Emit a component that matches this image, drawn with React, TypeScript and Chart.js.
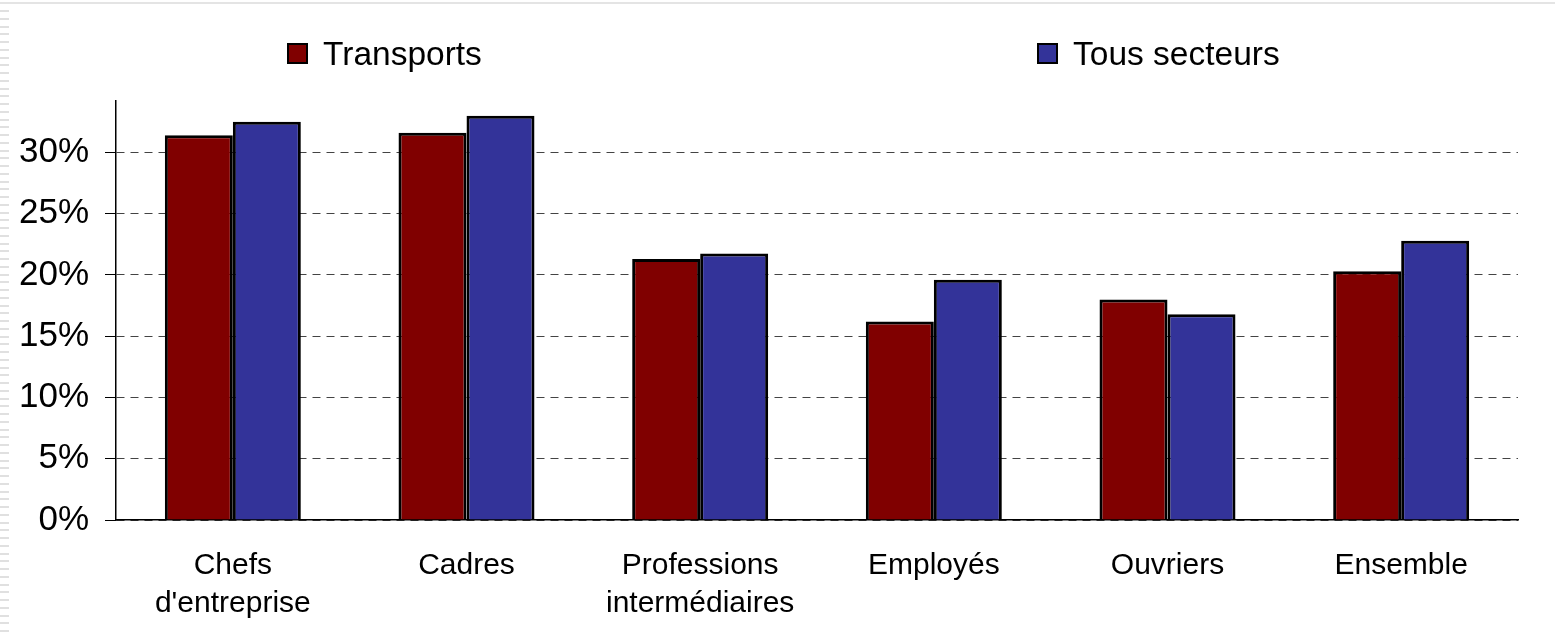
import React, { useEffect, useRef } from "react";
import { Chart, registerables } from "chart.js";

Chart.register(...registerables);

const categories: string[][] = [
  ["Chefs", "d'entreprise"],
  ["Cadres"],
  ["Professions", "intermédiaires"],
  ["Employés"],
  ["Ouvriers"],
  ["Ensemble"],
];
const seriesNames = ["Transports", "Tous secteurs"];
const transports = [31.4, 31.6, 21.3, 16.2, 18.0, 20.3];
const tousSecteurs = [32.5, 33.0, 21.75, 19.6, 16.8, 22.8];
const yMin = 0;
const yMax = 34.2;
const yStep = 5;

const FONT = "'Liberation Sans', Arial, sans-serif";
const RED = "#800000";
const BLUE = "#333399";

const decorPlugin = {
  id: "decor",
  beforeDraw(chart: any) {
    const { ctx, width, height } = chart;
    ctx.save();
    ctx.fillStyle = "#ffffff";
    ctx.fillRect(0, 0, width, height);
    ctx.fillStyle = "#e4e4e4";
    ctx.fillRect(0, 2, width, 2);
    ctx.fillStyle = "#e0e0e0";
    for (let y = 10; y < height; y += 7.75) {
      ctx.fillRect(0, Math.round(y), 9, 2);
    }
    ctx.restore();
  },
};

const legendPlugin = {
  id: "customLegend",
  afterDraw(chart: any) {
    const { ctx } = chart;
    const xs = [287, 1037];
    ctx.save();
    chart.data.datasets.forEach((ds: any, i: number) => {
      const x = xs[i];
      const yTop = 43;
      const size = 21;
      ctx.fillStyle = ds.backgroundColor;
      ctx.fillRect(x, yTop, size, size);
      ctx.strokeStyle = "#000";
      ctx.lineWidth = 2;
      ctx.strokeRect(x + 1, yTop + 1, size - 2, size - 2);
      ctx.fillStyle = "#000";
      ctx.font = `33.5px ${FONT}`;
      ctx.textBaseline = "middle";
      ctx.textAlign = "left";
      ctx.fillText(ds.label, x + 36, yTop + size / 2 + 2);
    });
    ctx.restore();
  },
};

export default function App() {
  const canvasRef = useRef<HTMLCanvasElement | null>(null);

  useEffect(() => {
    if (!canvasRef.current) return;
    const chart = new Chart(canvasRef.current, {
      type: "bar",
      data: {
        labels: categories,
        datasets: [
          {
            label: seriesNames[0],
            data: transports,
            backgroundColor: RED,
            borderColor: "#000",
            borderWidth: 3,
          },
          {
            label: seriesNames[1],
            data: tousSecteurs,
            backgroundColor: BLUE,
            borderColor: "#000",
            borderWidth: 3,
          },
        ],
      },
      options: {
        animation: false,
        responsive: true,
        maintainAspectRatio: false,
        layout: { padding: { top: 101, right: 37, left: 0, bottom: 0 } },
        datasets: {
          bar: { barPercentage: 1, categoryPercentage: 0.582 },
        },
        plugins: {
          legend: { display: false },
          tooltip: { enabled: false },
          title: { display: false },
        },
        scales: {
          x: {
            grid: { display: false, drawTicks: false },
            border: { display: true, color: "#000", width: 1.5 },
            ticks: {
              color: "#000",
              font: { family: FONT, size: 30, lineHeight: 1.25 },
              padding: 27,
              maxRotation: 0,
              autoSkip: false,
            },
            afterFit(scale: any) {
              scale.height = 118;
            },
          },
          y: {
            min: yMin,
            max: yMax,
            grid: {
              display: true,
              color: "#444",
              lineWidth: 1,
              drawTicks: true,
              tickLength: 11,
              tickColor: "#000",
              tickWidth: 1,
            },
            border: { display: true, color: "#000", width: 1.5, dash: [8, 6] },
            ticks: {
              stepSize: yStep,
              color: "#000",
              padding: 16,
              font: { family: FONT, size: 35 },
              callback: (v: any) => `${v}%`,
            },
            afterBuildTicks(scale: any) {
              scale.ticks = scale.ticks.filter(
                (t: any) => Math.abs(t.value / yStep - Math.round(t.value / yStep)) < 1e-6
              );
            },
            afterFit(scale: any) {
              scale.width = 116;
            },
          },
        },
      },
      plugins: [decorPlugin, legendPlugin],
    });
    return () => chart.destroy();
  }, []);

  return (
    <div
      style={{
        position: "fixed",
        left: 0,
        top: 0,
        width: "1555px",
        height: "638px",
        background: "#fff",
      }}
    >
      <canvas ref={canvasRef} />
    </div>
  );
}
